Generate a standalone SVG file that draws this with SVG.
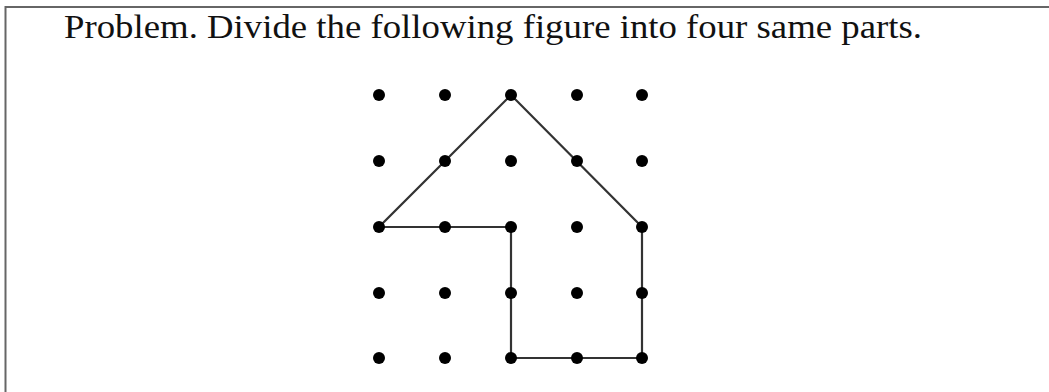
<svg xmlns="http://www.w3.org/2000/svg" width="1049" height="392" viewBox="0 0 1049 392">
<style>
.dot{fill:#000}
.edge{fill:none;stroke:#333;stroke-width:2.2;stroke-linejoin:miter}
.title{font-family:"Liberation Serif",serif;font-size:33px;fill:#111}
</style>
<rect x="0" y="0" width="1049" height="392" fill="#fff"/>
<rect x="5.5" y="7" width="1060" height="400" fill="none" stroke="#666" stroke-width="2"/>
<text class="title" x="64" y="38" textLength="858" lengthAdjust="spacingAndGlyphs">Problem. Divide the following figure into four same parts.</text>
<g id="connectors">
<polyline class="edge" points="511,95 379,227 511,227 511,358 642,358 642,227 511,95"/>
</g>
<g id="dots">
<g id="r1"><circle class="dot" cx="379" cy="95" r="6"/><circle class="dot" cx="445" cy="95" r="6"/><circle class="dot" cx="511" cy="95" r="6"/><circle class="dot" cx="577" cy="95" r="6"/><circle class="dot" cx="642" cy="95" r="6"/></g>
<g id="r2"><circle class="dot" cx="379" cy="161" r="6"/><circle class="dot" cx="445" cy="161" r="6"/><circle class="dot" cx="511" cy="161" r="6"/><circle class="dot" cx="577" cy="161" r="6"/><circle class="dot" cx="642" cy="161" r="6"/></g>
<g id="r3"><circle class="dot" cx="379" cy="227" r="6"/><circle class="dot" cx="445" cy="227" r="6"/><circle class="dot" cx="511" cy="227" r="6"/><circle class="dot" cx="577" cy="227" r="6"/><circle class="dot" cx="642" cy="227" r="6"/></g>
<g id="r4"><circle class="dot" cx="379" cy="293" r="6"/><circle class="dot" cx="445" cy="293" r="6"/><circle class="dot" cx="511" cy="293" r="6"/><circle class="dot" cx="577" cy="293" r="6"/><circle class="dot" cx="642" cy="293" r="6"/></g>
<g id="r5"><circle class="dot" cx="379" cy="358" r="6"/><circle class="dot" cx="445" cy="358" r="6"/><circle class="dot" cx="511" cy="358" r="6"/><circle class="dot" cx="577" cy="358" r="6"/><circle class="dot" cx="642" cy="358" r="6"/></g>
</g>
</svg>
